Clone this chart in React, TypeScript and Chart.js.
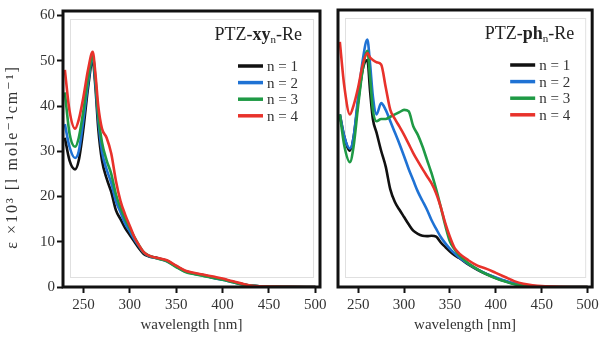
import React, { useEffect, useRef } from "react";
import { Chart, registerables } from "chart.js";

Chart.register(...registerables);

// ---------- data ----------
const xTickValues = [250, 300, 350, 400, 450, 500];
const yTickValues = [0, 10, 20, 30, 40, 50, 60];
const seriesLabels = ["n = 1", "n = 2", "n = 3", "n = 4"];
const seriesColors = ["#111111", "#1f72d4", "#1f9a45", "#e8322b"];
const yAxisTitle = "ε ×10³ [l mole⁻¹cm⁻¹]";
const xAxisTitle = "wavelength [nm]";

// PTZ-xy_n-Re
const wavelengthsXy = [230, 235, 241, 245, 250, 255, 260, 263, 266, 270, 275, 280, 285, 290, 295, 300, 305, 310, 315, 320, 330, 340, 350, 360, 370, 380, 390, 400, 410, 420, 430, 440, 450, 470, 500];
const xyN1 = [33, 28, 26, 28, 35, 44, 50, 44, 35, 28, 24, 21, 17, 15, 13, 11.5, 10, 8.5, 7.3, 6.8, 6.4, 5.8, 4.6, 3.5, 3.0, 2.6, 2.1, 1.7, 1.2, 0.7, 0.3, 0.15, 0.1, 0.05, 0];
const xyN2 = [36, 31, 28.5, 30, 37, 45, 51, 45, 37, 30, 26, 23, 19, 16.5, 14, 12.3, 10.5, 9, 7.6, 6.9, 6.3, 5.7, 4.5, 3.4, 2.9, 2.5, 2.0, 1.6, 1.1, 0.6, 0.3, 0.15, 0.1, 0.05, 0];
const xyN3 = [43, 34, 31, 33, 39, 46, 51, 46, 38, 32, 28, 25, 20.5, 17.5, 15, 13, 11, 9.2, 7.7, 7, 6.3, 5.7, 4.4, 3.3, 2.8, 2.4, 2.0, 1.6, 1.1, 0.6, 0.3, 0.15, 0.1, 0.05, 0];
const xyN4 = [48, 39, 35, 37, 42, 48, 52, 47, 40, 35, 33, 29.5, 23.5, 19, 16, 13.5, 11, 9.2, 7.7, 7, 6.4, 5.9, 4.7, 3.6, 3.1, 2.7, 2.3, 1.9, 1.3, 0.8, 0.35, 0.15, 0.1, 0.05, 0];

// PTZ-ph_n-Re
const wavelengthsPh = [230, 235, 241, 245, 250, 255, 260, 263, 266, 270, 275, 280, 285, 290, 295, 300, 305, 310, 315, 320, 325, 330, 335, 340, 345, 350, 355, 360, 370, 380, 390, 400, 410, 420, 430, 440, 450, 470, 500];
const phN1 = [38, 33, 30, 33, 41, 48, 50, 43, 37, 34, 30, 26.5, 21.5, 18.7, 17, 15.4, 13.8, 12.4, 11.7, 11.3, 11.2, 11.3, 11.1, 9.8, 8.8, 7.8, 7.0, 6.4, 5.0, 3.8, 2.8, 2.0, 1.3, 0.7, 0.3, 0.15, 0.05, 0, 0];
const phN2 = [38, 33, 30.5, 33, 42, 50, 54.5, 49, 42, 38, 40.5, 39, 36.5, 34, 31.5, 28.8, 26, 23.5, 21, 19, 17, 14.7, 12.8, 11, 9.6, 8.4, 7.4, 6.5, 5.1, 3.9, 2.9, 2.1, 1.4, 0.8, 0.4, 0.2, 0.1, 0, 0];
const phN3 = [38, 31, 27.5, 31, 40, 48, 52, 46, 39, 36.5, 37, 37, 37.5, 38, 38.5, 39, 38.7, 35.4, 33.5, 31, 28, 25, 21.5, 17.6, 13.5, 10, 8.3, 7, 5.2, 3.9, 2.8, 1.9, 1.2, 0.6, 0.25, 0.1, 0, 0, 0];
const phN4 = [54, 44, 38, 40, 44, 49, 51.5, 50.5, 50, 49.5, 49, 44, 39, 37, 35.3, 33.5, 31.5, 29.5, 27.7, 26, 24.4, 22.8, 20.6, 17.6, 14, 11, 8.6, 7.4, 5.9, 4.7, 4, 3.1, 2.2, 1.3, 0.7, 0.4, 0.2, 0.05, 0];

const FONT = "'Liberation Serif', 'DejaVu Serif', serif";

type TitlePart = { t: string; bold?: boolean; sub?: boolean };

function makeDecorPlugin(titleParts: TitlePart[], showY: boolean) {
  return {
    id: "decor",
    beforeDatasetsDraw(chart: any) {
      const { ctx, chartArea: a } = chart;
      ctx.save();
      ctx.strokeStyle = "rgba(0,0,0,0.12)";
      ctx.lineWidth = 1;
      ctx.strokeRect(a.left + 7.5, a.top + 8.5, a.right - a.left - 14, a.bottom - a.top - 18);
      ctx.restore();
    },
    afterDatasetsDraw(chart: any) {
      const { ctx, chartArea: a } = chart;
      ctx.save();
      // frame
      ctx.strokeStyle = "#111";
      ctx.lineWidth = 3;
      ctx.strokeRect(a.left, a.top, a.right - a.left, a.bottom - a.top);
      // title
      const size = 18;
      const fontFor = (p: TitlePart) =>
        `${p.bold ? "bold " : ""}${p.sub ? Math.round(size * 0.6) : size}px ${FONT}`;
      let total = 0;
      for (const p of titleParts) {
        ctx.font = fontFor(p);
        total += ctx.measureText(p.t).width;
      }
      let x = a.right - 18 - total;
      const baseY = a.top + 29;
      ctx.fillStyle = "#222";
      ctx.textBaseline = "alphabetic";
      ctx.textAlign = "left";
      for (const p of titleParts) {
        ctx.font = fontFor(p);
        ctx.fillText(p.t, x, p.sub ? baseY + 3 : baseY);
        x += ctx.measureText(p.t).width;
      }
      // legend
      ctx.font = `15px ${FONT}`;
      ctx.textBaseline = "middle";
      seriesLabels.forEach((lab, i) => {
        const y = a.top + 55 + i * 16.6;
        ctx.strokeStyle = seriesColors[i];
        ctx.lineWidth = 3.5;
        ctx.beginPath();
        ctx.moveTo(a.right - 82, y);
        ctx.lineTo(a.right - 57, y);
        ctx.stroke();
        ctx.fillStyle = "#333";
        ctx.fillText(lab, a.right - 53, y + 1);
      });
      ctx.restore();
      // y-axis title (spaced out like the reference)
      if (showY) {
        ctx.save();
        ctx.translate(13, 157);
        ctx.rotate(-Math.PI / 2);
        ctx.font = `16px ${FONT}`;
        (ctx as any).letterSpacing = "2px";
        ctx.fillStyle = "#333";
        ctx.textAlign = "center";
        ctx.textBaseline = "middle";
        ctx.fillText(yAxisTitle, 0, 0);
        ctx.restore();
      }
    },
  };
}

function buildConfig(wl: number[], series: number[][], showY: boolean, titleParts: TitlePart[]) {
  const datasets = series.map((vals, i) => ({
    label: seriesLabels[i],
    data: vals.map((v, j) => ({ x: wl[j], y: v })),
    borderColor: seriesColors[i],
    backgroundColor: seriesColors[i],
    borderWidth: 2.6,
    pointRadius: 0,
    cubicInterpolationMode: "monotone" as const,
    fill: false,
    order: 4 - i,
  }));
  return {
    type: "line" as const,
    data: { datasets },
    plugins: [makeDecorPlugin(titleParts, showY)],
    options: {
      animation: false as const,
      responsive: false,
      maintainAspectRatio: false,
      events: [],
      layout: { padding: showY ? { top: 10, right: 10, left: 0, bottom: 0 } : { top: 10, right: 9, left: 8, bottom: 0 } },
      plugins: { legend: { display: false }, tooltip: { enabled: false }, title: { display: false } },
      scales: {
        x: {
          type: "linear" as const,
          min: 228,
          max: 505,
          afterBuildTicks: (s: any) => {
            s.ticks = xTickValues.map((v) => ({ value: v }));
          },
          afterFit: (s: any) => {
            s.height = 50;
          },
          grid: { drawOnChartArea: false, drawTicks: true, tickLength: 6, tickWidth: 2, tickColor: "#111", color: "#111" },
          border: { display: false },
          ticks: { color: "#333", padding: 3, font: { family: FONT, size: 15 }, maxRotation: 0, autoSkip: false },
          title: { display: true, text: xAxisTitle, color: "#333", font: { family: FONT, size: 15 }, padding: { top: 0, bottom: 3 } },
        },
        y: {
          type: "linear" as const,
          display: showY,
          min: 0,
          max: 61,
          afterBuildTicks: (s: any) => {
            s.ticks = yTickValues.map((v) => ({ value: v }));
          },
          afterFit: (s: any) => {
            if (showY) s.width = 63;
          },
          grid: { drawOnChartArea: false, drawTicks: true, tickLength: 6, tickWidth: 2, tickColor: "#111", color: "#111" },
          border: { display: false },
          ticks: { color: "#333", padding: 2, font: { family: FONT, size: 15 } },
          title: { display: false },
        },
      },
    },
  };
}

function Panel(props: { wl: number[]; series: number[][]; showY: boolean; title: TitlePart[]; width: number; left: number }) {
  const ref = useRef<HTMLCanvasElement | null>(null);
  useEffect(() => {
    if (!ref.current) return;
    const chart = new Chart(ref.current, buildConfig(props.wl, props.series, props.showY, props.title) as any);
    return () => chart.destroy();
  }, []);
  return (
    <canvas
      ref={ref}
      width={props.width}
      height={337}
      style={{ position: "absolute", left: props.left, top: 0, width: props.width, height: 337 }}
    />
  );
}

export default function App() {
  return (
    <div style={{ position: "absolute", left: 0, top: 0, width: 602, height: 337, background: "#fff", overflow: "hidden" }}>
      <Panel
        wl={wavelengthsXy}
        series={[xyN1, xyN2, xyN3, xyN4]}
        showY={true}
        title={[{ t: "PTZ-" }, { t: "xy", bold: true }, { t: "n", sub: true }, { t: "-Re" }]}
        width={330}
        left={0}
      />
      <Panel
        wl={wavelengthsPh}
        series={[phN1, phN2, phN3, phN4]}
        showY={false}
        title={[{ t: "PTZ-" }, { t: "ph", bold: true }, { t: "n", sub: true }, { t: "-Re" }]}
        width={272}
        left={330}
      />
    </div>
  );
}
